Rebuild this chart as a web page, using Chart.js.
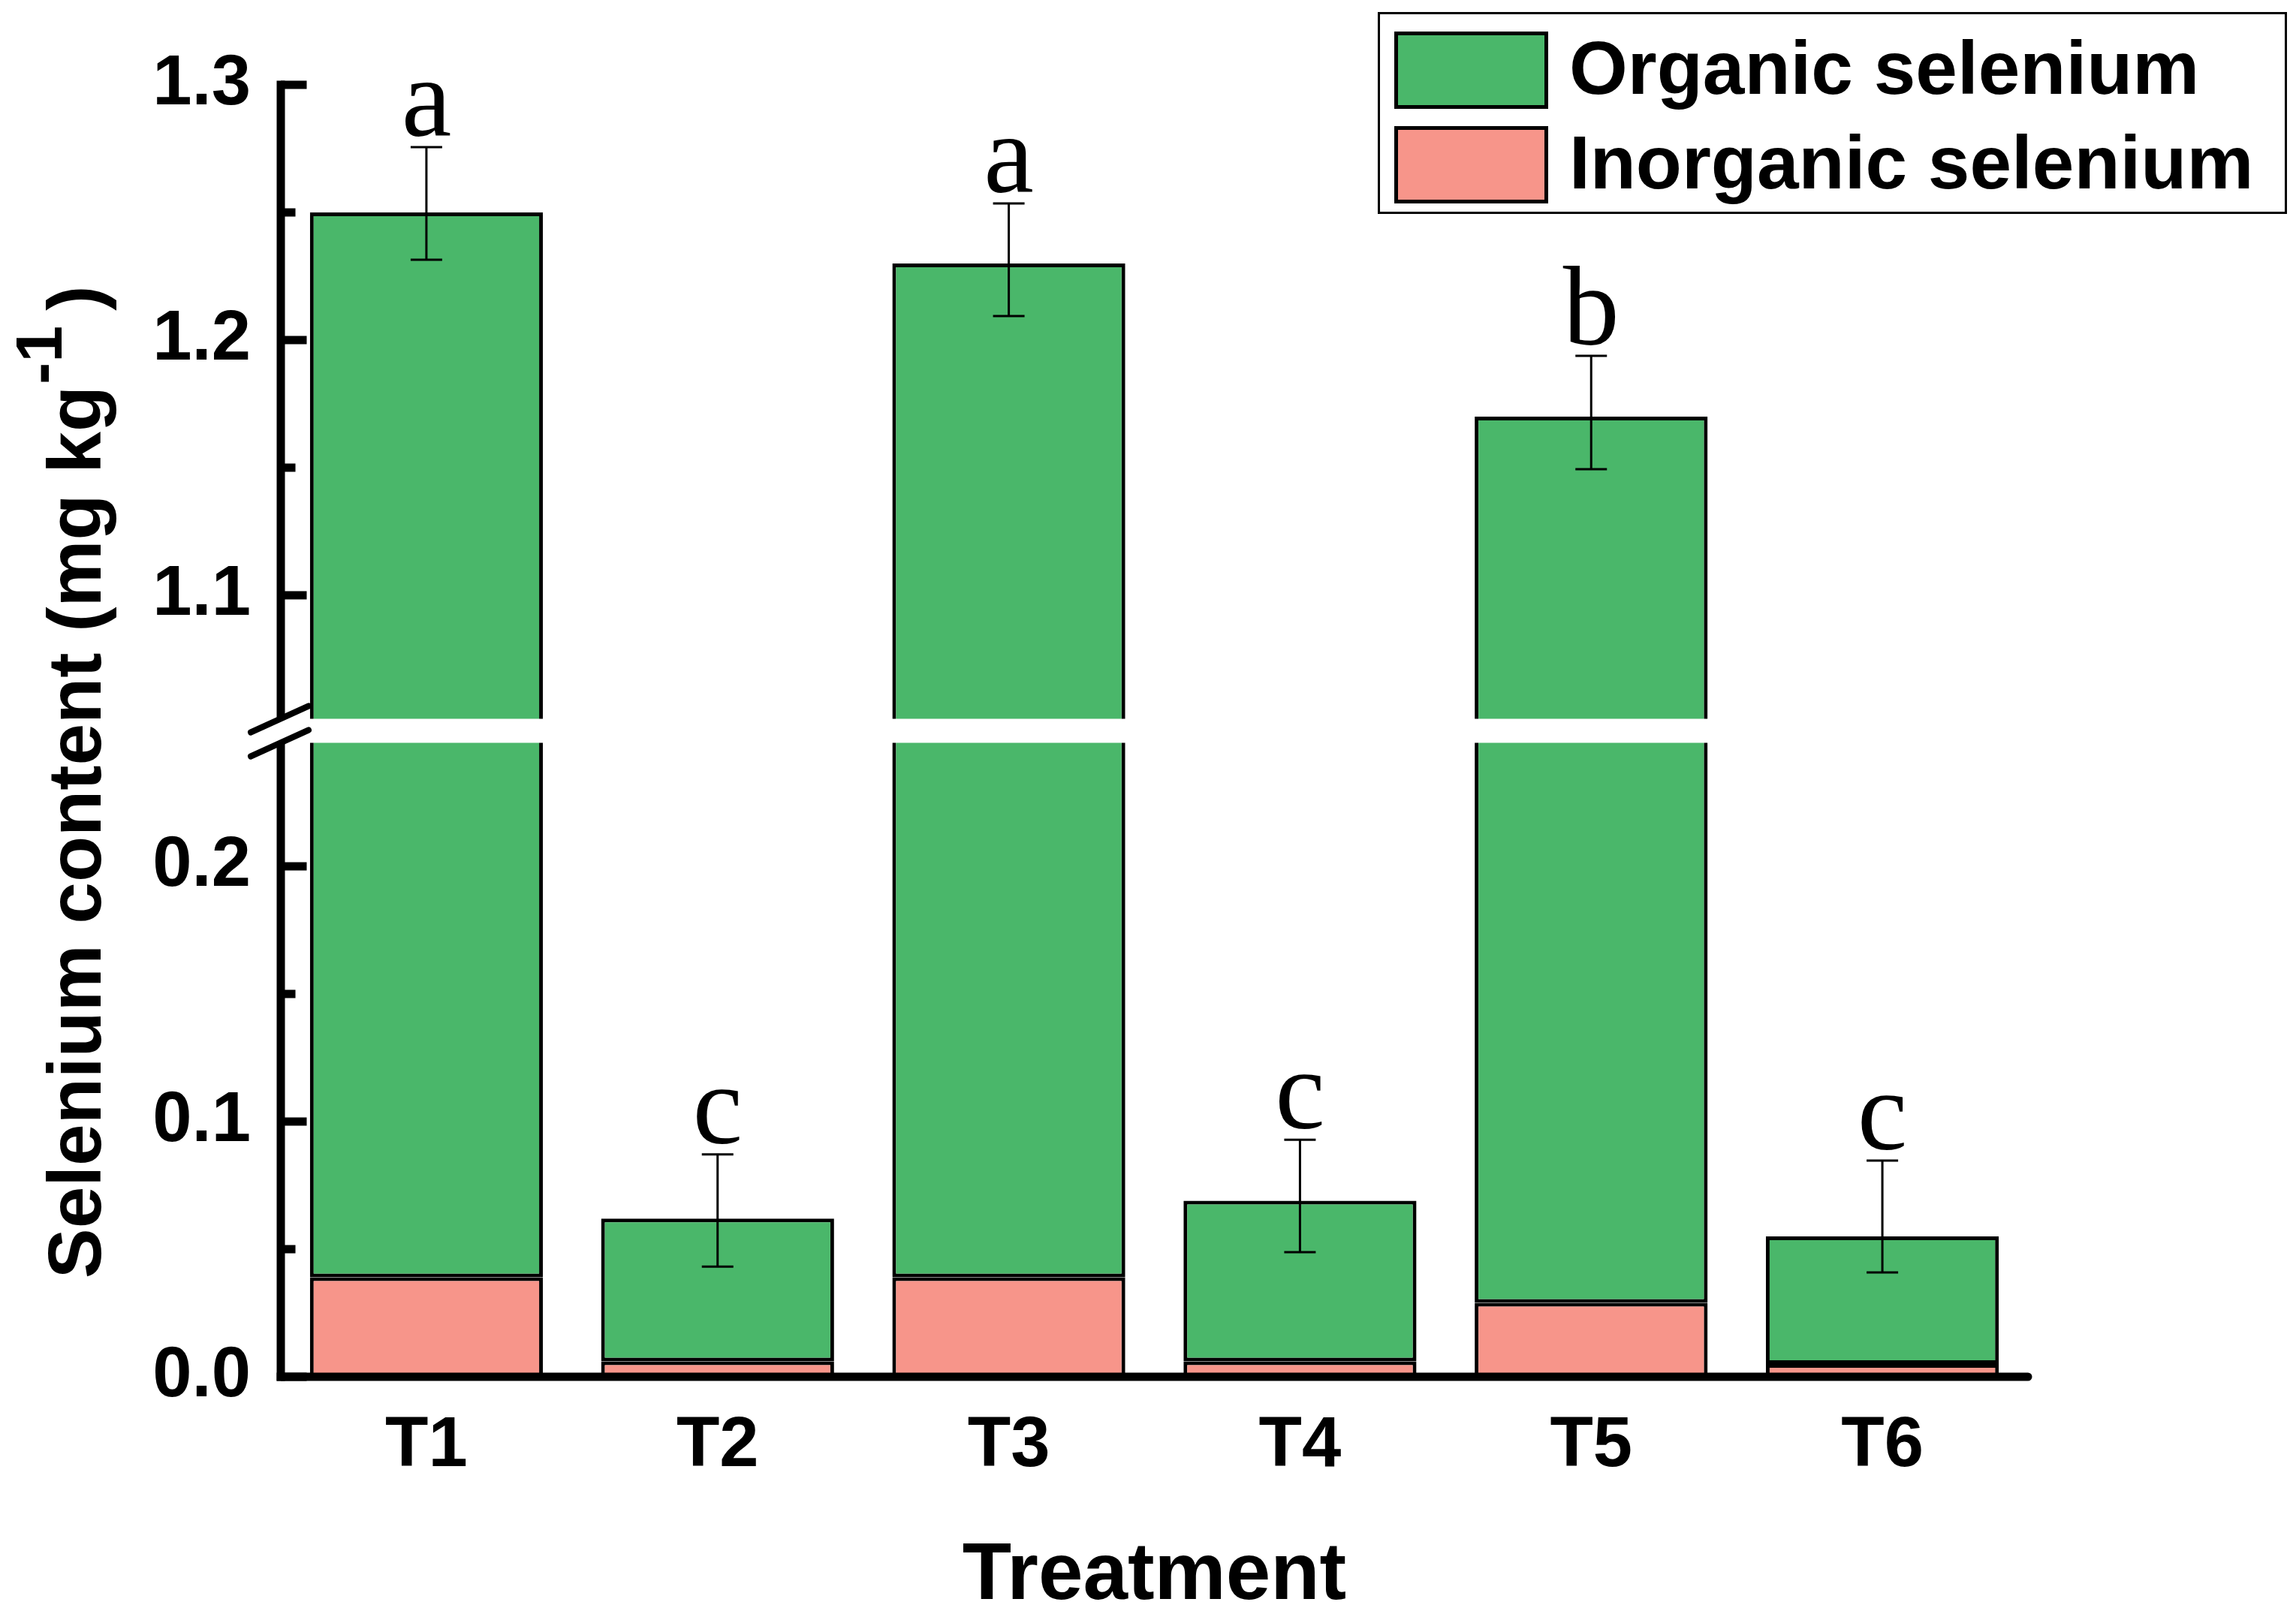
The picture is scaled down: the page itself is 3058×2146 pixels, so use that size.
<!DOCTYPE html>
<html>
<head>
<meta charset="utf-8">
<script src="https://cdn.jsdelivr.net/npm/chart.js@4.4.1/dist/chart.umd.min.js"></script>
<style>
  html, body { margin: 0; padding: 0; background: #ffffff; overflow: hidden; }
  canvas { display: block; }
</style>
</head>
<body>
<canvas id="c" width="3058" height="2146"></canvas>
<script>
// ---------- data ----------
const categories = ['T1', 'T2', 'T3', 'T4', 'T5', 'T6'];
const inorganicSe = [0.039, 0.006, 0.039, 0.006, 0.029, 0.005];
const totalSe     = [1.250, 0.062, 1.230, 0.069, 1.170, 0.055];
const errUpper    = [1.2756, 0.0871, 1.2535, 0.0929, 1.1938, 0.0847];
const errLower    = [1.2315, 0.0432, 1.2094, 0.0488, 1.1494, 0.0409];
const letters     = ['a', 'c', 'a', 'c', 'b', 'c'];
const seriesNames = ['Organic selenium', 'Inorganic selenium'];
const majorTicks  = [0.0, 0.1, 0.2, 1.1, 1.2, 1.3];
const minorTicks  = [0.05, 0.15, 1.15, 1.25];
const yAxisTitle  = 'Selenium content (mg kg';
const yAxisSup    = '-1';
const xAxisTitle  = 'Treatment';

// ---------- broken axis mapping ----------
const BREAK_LOW = 0.25, BREAK_HIGH = 1.05, GAP = 0.0062, Y_TOP = 1.3;
const tf = v => (v <= BREAK_LOW ? v : v - (BREAK_HIGH - BREAK_LOW) + GAP);

const GREEN = '#4ab76a';
const SALMON = '#f7958a';
const FONT = '"Liberation Sans", Arial, sans-serif';

Chart.defaults.font.family = FONT;
Chart.defaults.color = '#000';

const decor = {
  id: 'decor',
  afterDatasetsDraw(chart) {
    const { ctx, chartArea: ca, scales: { x, y } } = chart;
    ctx.save();
    // error bars + letters
    categories.forEach((c, i) => {
      const cx = x.getPixelForValue(i);
      const yt = y.getPixelForValue(tf(errUpper[i]));
      const yb = y.getPixelForValue(tf(errLower[i]));
      ctx.strokeStyle = '#000';
      ctx.lineWidth = 3;
      ctx.lineCap = 'butt';
      ctx.beginPath();
      ctx.moveTo(cx, yt); ctx.lineTo(cx, yb);
      ctx.moveTo(cx - 21, yt); ctx.lineTo(cx + 21, yt);
      ctx.moveTo(cx - 21, yb); ctx.lineTo(cx + 21, yb);
      ctx.stroke();
      ctx.fillStyle = '#000';
      ctx.font = '150px "Liberation Serif", "Times New Roman", serif';
      ctx.textAlign = 'center';
      ctx.textBaseline = 'alphabetic';
      ctx.fillText(letters[i], cx, yt - 15);
    });

    // break band
    const yHi = y.getPixelForValue(tf(BREAK_HIGH));
    const yLo = y.getPixelForValue(tf(BREAK_LOW));
    const yc = (yHi + yLo) / 2;
    const half = 16;
    ctx.fillStyle = '#fff';
    ctx.fillRect(ca.left - 10, yc - half, ca.right - ca.left + 10, half * 2);

    // axes
    const lw = 11;
    const axX = ca.left;
    const y0 = y.getPixelForValue(0);
    const yTop = y.getPixelForValue(tf(Y_TOP));
    ctx.fillStyle = '#000';
    ctx.fillRect(axX - lw / 2, yTop - lw / 2, lw, (yc - half) - (yTop - lw / 2));
    ctx.fillRect(axX - lw / 2, yc + half, lw, (y0 + lw / 2) - (yc + half));
    // x axis with rounded right end
    ctx.fillRect(axX - lw / 2, y0 - lw / 2, ca.right - (axX - lw / 2), lw);
    ctx.beginPath();
    ctx.arc(ca.right, y0, lw / 2, -Math.PI / 2, Math.PI / 2);
    ctx.fill();

    // ticks (inward)
    majorTicks.forEach(v => {
      const yy = y.getPixelForValue(tf(v));
      ctx.fillRect(axX, yy - lw / 2, lw / 2 + 29, lw);
    });
    minorTicks.forEach(v => {
      const yy = y.getPixelForValue(tf(v));
      ctx.fillRect(axX, yy - lw / 2, lw / 2 + 14, lw);
    });

    // break marks
    ctx.strokeStyle = '#000';
    ctx.lineWidth = 8;
    ctx.lineCap = 'round';
    [yc - half, yc + half].forEach(yy => {
      ctx.beginPath();
      ctx.moveTo(axX - 40, yy + 18);
      ctx.lineTo(axX + 37, yy - 17);
      ctx.stroke();
    });
    ctx.restore();
  },
  afterDraw(chart) {
    const { ctx } = chart;
    ctx.save();
    // legend
    const ds = chart.data.datasets;
    ctx.strokeStyle = '#000';
    ctx.lineWidth = 3;
    ctx.strokeRect(1836.5, 17.5, 1208, 266);
    const rows = [{ d: ds[0], top: 42 }, { d: ds[1], top: 168 }];
    rows.forEach(r => {
      ctx.fillStyle = r.d.backgroundColor;
      ctx.fillRect(1857, r.top, 205, 103);
      ctx.lineWidth = 5;
      ctx.strokeRect(1859.5, r.top + 2.5, 200, 98);
      ctx.fillStyle = '#000';
      ctx.font = 'bold 100px ' + FONT;
      ctx.textAlign = 'left';
      ctx.textBaseline = 'alphabetic';
      ctx.fillText(r.d.label, 2090, r.top + 83);
    });

    // y axis title with superscript
    ctx.translate(134, 1703);
    ctx.rotate(-Math.PI / 2);
    ctx.fillStyle = '#000';
    ctx.textAlign = 'left';
    ctx.textBaseline = 'alphabetic';
    ctx.font = 'bold 100px ' + FONT;
    ctx.fillText(yAxisTitle, 0, 0);
    const w1 = ctx.measureText(yAxisTitle).width;
    ctx.font = 'bold 88px ' + FONT;
    ctx.fillText(yAxisSup, w1 + 2, -52);
    const w2 = ctx.measureText(yAxisSup).width;
    ctx.font = 'bold 100px ' + FONT;
    ctx.fillText(')', w1 + w2 + 22, 0);
    ctx.restore();
  }
};

new Chart(document.getElementById('c'), {
  type: 'bar',
  data: {
    labels: categories,
    datasets: [
      {
        label: seriesNames[0],
        data: categories.map((c, i) => [tf(inorganicSe[i]), tf(totalSe[i])]),
        backgroundColor: GREEN,
        borderColor: '#000',
        borderWidth: 5,
        borderSkipped: false,
        grouped: false,
        categoryPercentage: 0.8,
        barPercentage: 1.0
      },
      {
        label: seriesNames[1],
        data: categories.map((c, i) => [0, tf(inorganicSe[i])]),
        backgroundColor: SALMON,
        borderColor: '#000',
        borderWidth: 5,
        borderSkipped: false,
        grouped: false,
        categoryPercentage: 0.8,
        barPercentage: 1.0
      }
    ]
  },
  options: {
    responsive: false,
    devicePixelRatio: 1,
    animation: false,
    layout: { padding: { top: 113, right: 357, left: 0, bottom: 0 } },
    plugins: { legend: { display: false }, tooltip: { enabled: false } },
    scales: {
      x: {
        grid: { display: false, drawTicks: false },
        border: { display: false },
        ticks: { font: { size: 94, weight: 'bold' }, padding: 37, maxRotation: 0, color: '#000' },
        title: { display: true, text: xAxisTitle, font: { size: 107, weight: 'bold' }, color: '#000', padding: { top: 0, bottom: -19 } },
        afterFit: s => { s.height = 312; }
      },
      y: {
        min: 0,
        max: tf(Y_TOP),
        grid: { display: false, drawTicks: false },
        border: { display: false },
        afterBuildTicks: s => { s.ticks = majorTicks.map(v => ({ value: tf(v) })); },
        ticks: {
          autoSkip: false,
          font: { size: 94, weight: 'bold' },
          color: '#000',
          padding: 40,
          callback: (val, idx) => majorTicks[idx].toFixed(1)
        },
        afterFit: s => { s.width = 374; }
      }
    }
  },
  plugins: [decor]
});
</script>
</body>
</html>
